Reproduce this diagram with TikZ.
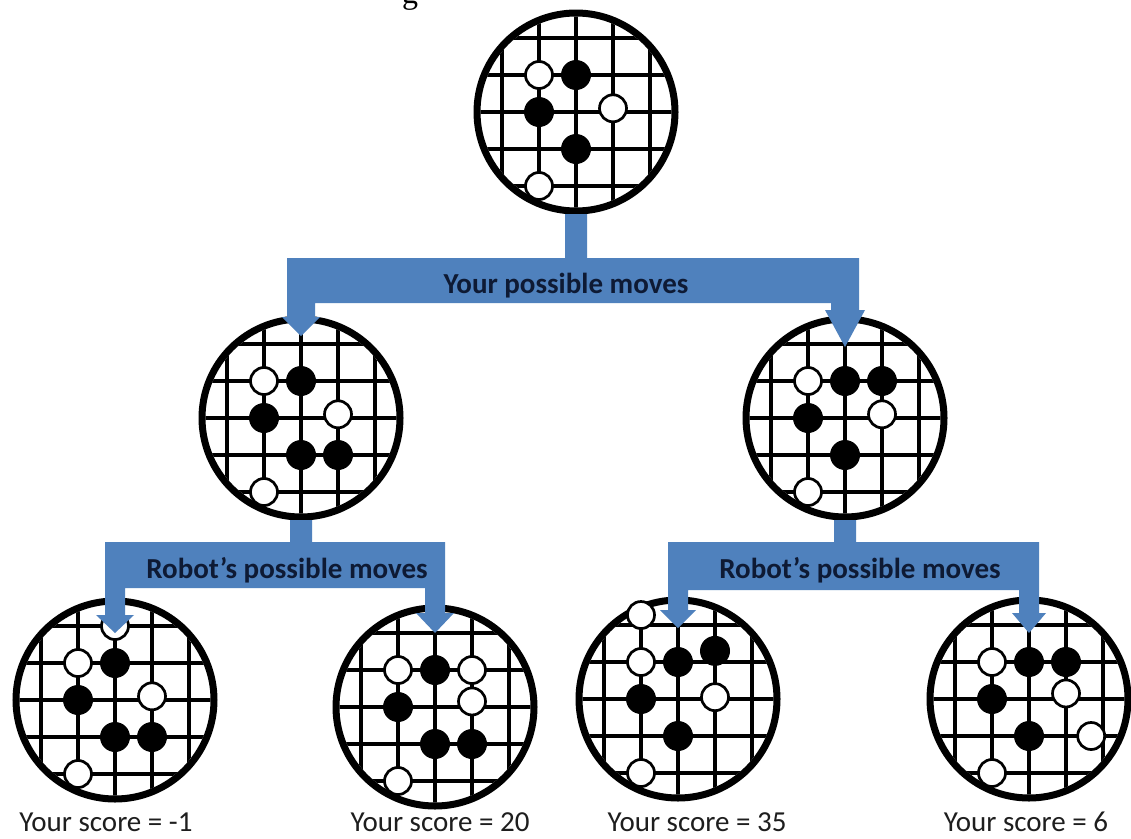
\documentclass[tikz,border=0pt]{standalone}
\usepackage{fontspec}
\setmainfont{Carlito}
\newfontfamily\titleserif{Liberation Serif}
\usetikzlibrary{calc}

\definecolor{arrowblue}{RGB}{79,129,189}
\definecolor{labelnavy}{RGB}{14,26,52}
\definecolor{scoregray}{RGB}{30,30,30}

\tikzset{
  boardring/.style={circle, draw=black, line width=7pt, fill=white,
    minimum size=198pt, inner sep=0pt, outer sep=0pt},
  gridline/.style={black, line width=4pt},
  whitestone/.style={draw=black, fill=white, line width=2.7pt},
  blackstone/.style={fill=black},
  fork/.style={fill=arrowblue},
  movelabel/.style={font=\bfseries\fontsize{29}{34}\selectfont, text=labelnavy,
    anchor=base, inner sep=0pt},
  scorelabel/.style={font=\fontsize{29}{34}\selectfont, text=scoregray,
    anchor=base, inner sep=0pt},
}

% #1 name, #2 centre, #3 white stones, #4 black stones (col/row, row downwards)
\newcommand\goboard[4]{%
  \node[boardring] (#1) at (#2) {};
  \begin{scope}[shift={(#1.center)}, x=37pt, y=-37pt]
    \clip (0,0) circle (95.5pt);
    \foreach \k in {-2,...,2}{
      \draw[gridline] (\k,-3) -- (\k,3);
      \draw[gridline] (-3,\k) -- (3,\k);
    }
  \end{scope}
  \begin{scope}[shift={(#1.center)}, x=37pt, y=-37pt]
    \foreach \cc/\rr in {#3} \draw[whitestone] (\cc,\rr) circle (13.5pt);
    \foreach \cc/\rr in {#4} \fill[blackstone] (\cc,\rr) circle (15pt);
  \end{scope}
}

\begin{document}
\begin{tikzpicture}[x=1pt, y=-1pt]
  \fill[white] (0,0) rectangle (1131,838);
  \useasboundingbox (0,0) rectangle (1131,838);

  % tail of the heading line above
  \node[font=\titleserif\fontsize{32}{36}\selectfont, anchor=base, inner sep=0pt]
    (headg) at (410,3) {g};

  % game positions
  \goboard{b0}{576,112}{-1/-1, 1/-0.1, -1/2}{0/-1, -1/0, 0/1}
  \goboard{b1}{301,418}{-1/-1, 1/-0.1, -1/2}{0/-1, -1/0, 0/1, 1/1}
  \goboard{b2}{845,418}{-1/-1, 1/-0.1, -1/2}{0/-1, 1/-1, -1/0, 0/1}
  \goboard{b3}{115,700}{0/-2, -1/-1, 1/-0.1, -1/2}{0/-1, -1/0, 0/1, 1/1}
  \goboard{b4}{435,707}{-1/-1, 1/-1, 1/-0.15, -1/2}{0/-1, -1/0, 0/1, 1/1}
  \goboard{b5}{678,699}{-1/-2.27, -1/-1, 1/-0.05, -1/2}{0/-1, 1/-1.3, -1/0, 0/1}
  \goboard{b6}{1029,699}{-1/-1, 1/-0.15, 1.68/1, -1/2}{0/-1, 1/-1, -1/0, 0/1}

  % levels of the branching bars
  \coordinate (barA1) at (0,258);
  \coordinate (barA2) at (0,303);
  \coordinate (barB1) at (0,542);
  \coordinate (barB2) at (0,588);
  \coordinate (barC1) at (0,542);
  \coordinate (barC2) at (0,590);

  % your moves: b0 -> b1, b2
  \fill[fork] ($(b0.south)+(-11,3)$) |- ($(b1.center |- barA1)+(-14,0)$)
    -- ($(b1.north)+(-14,-2)$) -- ($(b1.north)+(-19,-2)$) -- ($(b1.north)+(0,17)$)
    -- ($(b1.north)+(19,-2)$) -- ($(b1.north)+(14,-2)$)
    |- ($(b2.center |- barA2)+(-14,0)$)
    -- ($(b2.north)+(-14,-9)$) -- ($(b2.north)+(-20,-9)$) -- ($(b2.north)+(0,28)$)
    -- ($(b2.north)+(20,-9)$) -- ($(b2.north)+(14,-9)$)
    |- ($(b0.center |- barA1)+(11,0)$) -- ($(b0.south)+(11,3)$) -- cycle;

  % robot's replies: b1 -> b3, b4
  \fill[fork] ($(b1.south)+(-11,3)$) |- ($(b3.center |- barB1)+(-10,0)$)
    -- ($(b3.north)+(-10,14)$) -- ($(b3.north)+(-19,14)$) -- ($(b3.north)+(0,32)$)
    -- ($(b3.north)+(19,14)$) -- ($(b3.north)+(10,14)$)
    |- ($(b4.center |- barB2)+(-10,0)$)
    -- ($(b4.north)+(-10,5)$) -- ($(b4.north)+(-19,5)$) -- ($(b4.north)+(0,25)$)
    -- ($(b4.north)+(19,5)$) -- ($(b4.north)+(10,5)$)
    |- ($(b1.center |- barB1)+(11,0)$) -- ($(b1.south)+(11,3)$) -- cycle;

  % robot's replies: b2 -> b5, b6
  \fill[fork] ($(b2.south)+(-11,3)$) |- ($(b5.center |- barC1)+(-10,0)$)
    -- ($(b5.north)+(-10,10)$) -- ($(b5.north)+(-18,10)$) -- ($(b5.north)+(0,28)$)
    -- ($(b5.north)+(18,10)$) -- ($(b5.north)+(10,10)$)
    |- ($(b6.center |- barC2)+(-10,0)$)
    -- ($(b6.north)+(-10,13)$) -- ($(b6.north)+(-17,13)$) -- ($(b6.north)+(0,33)$)
    -- ($(b6.north)+(17,13)$) -- ($(b6.north)+(10,13)$)
    |- ($(b2.center |- barC1)+(11,0)$) -- ($(b2.south)+(11,3)$) -- cycle;

  % bar captions
  \node[movelabel] (lblA) at (566,293) {Your possible moves};
  \node[movelabel] (lblB) at (287,578) {Robot’s possible moves};
  \node[movelabel] (lblC) at (860,578) {Robot’s possible moves};

  % scores under the leaves
  \node[scorelabel] (s3) at (106,831) {Your score = -1};
  \node[scorelabel] (s4) at (440,831) {Your score = 20};
  \node[scorelabel] (s5) at (697,831) {Your score = 35};
  \node[scorelabel] (s6) at (1026,831) {Your score = 6};
\end{tikzpicture}
\end{document}
